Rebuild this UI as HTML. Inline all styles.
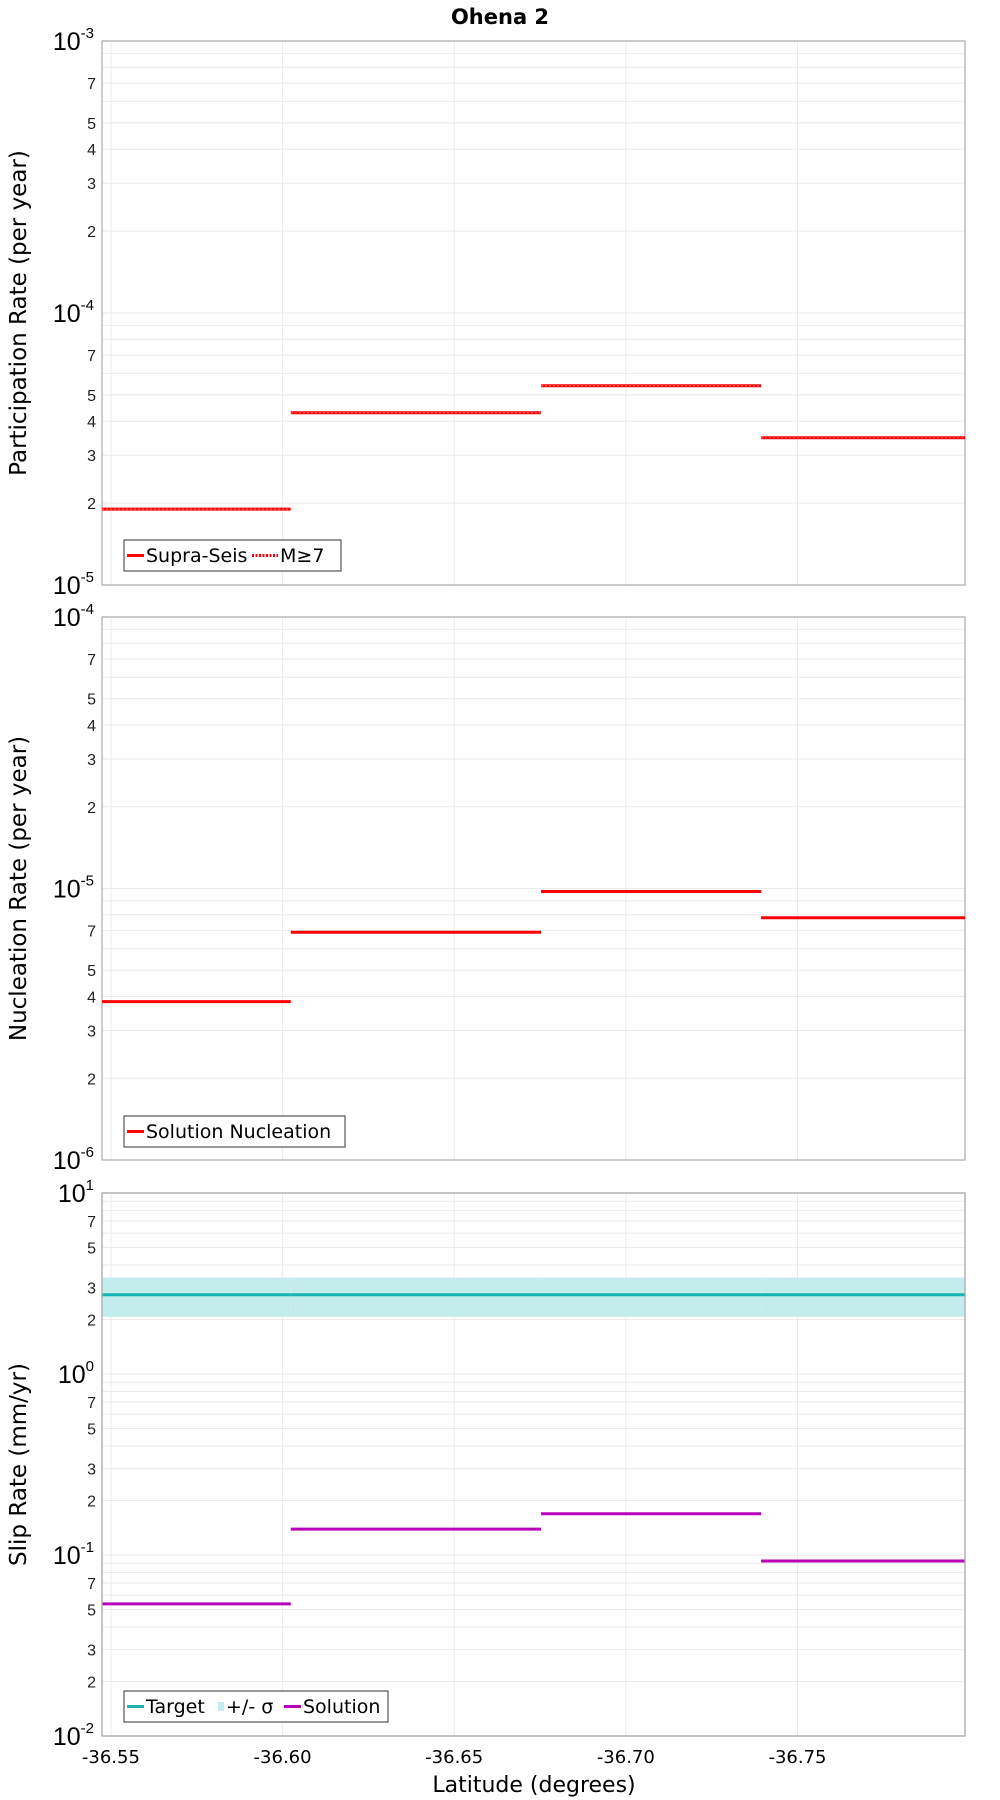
<!DOCTYPE html>
<html><head><meta charset="utf-8"><style>
body{margin:0;background:#fff;}
svg{display:block;font-family:"Liberation Sans","DejaVu Sans",sans-serif;}
</style></head><body>
<svg id="chart" width="1000" height="1800" viewBox="0 0 1000 1800" xmlns="http://www.w3.org/2000/svg">
<text x="500" y="24" text-anchor="middle" font-size="21" font-weight="bold" font-family="DejaVu Sans, sans-serif">Ohena 2</text>
<g id="root"></g>
</svg>
<script>
// shared x data
const segStarts = [-36.5474, -36.6024, -36.6753, -36.7394];
const segEnds = [-36.6024, -36.6753, -36.7394, -36.7988];
const xTicks = [-36.55, -36.60, -36.65, -36.70, -36.75];
const xTickLabels = ["-36.55", "-36.60", "-36.65", "-36.70", "-36.75"];
// panel 1
const partSupra = [1.9e-5, 4.3e-5, 5.4e-5, 3.48e-5];
const partM7 = [1.9e-5, 4.3e-5, 5.4e-5, 3.48e-5];
// panel 2
const nucleation = [3.83e-6, 6.9e-6, 9.75e-6, 7.8e-6];
// panel 3
const slipTarget = [2.74, 2.74, 2.74, 2.74];
const slipLow = [2.07, 2.07, 2.07, 2.07];
const slipHigh = [3.41, 3.41, 3.41, 3.41];
const slipSolution = [0.0537, 0.139, 0.169, 0.0927];

const NS = "http://www.w3.org/2000/svg";
const root = document.getElementById('root');
const L = 102, R = 965;
const xMin = -36.5474, xMax = -36.7988;
function X(v){ return L + (v - xMin) / (xMax - xMin) * (R - L); }
function mk(tag, attrs, parent){ const e = document.createElementNS(NS, tag); for (const k in attrs) e.setAttribute(k, attrs[k]); (parent||root).appendChild(e); return e; }

function panel(name, top, bot, expMin, expMax, title, labelMinors){
  const g = mk('g', {});
  
  
  const Y = v => bot - (Math.log10(v) - expMin) / (expMax - expMin) * (bot - top);
  mk('rect', {x:L, y:top, width:R-L, height:bot-top, fill:'#fff'}, g);
  for (let e = expMin; e < expMax; e++) {
    for (let m = 1; m <= 9; m++) {
      const v = m * Math.pow(10, e);
      const y = Y(v);
      mk('line', {x1:L, x2:R, y1:y, y2:y, stroke:'#ebebeb', 'stroke-width':1}, g);
      if (m === 1) {
        const t = mk('text', {x:L-8, y:y+9, 'text-anchor':'end', 'font-size':25, fill:'#000'}, g);
        
        
        t.innerHTML = '10<tspan dy="-12" font-size="15">' + e + '</tspan>';
      } else if (labelMinors.includes(m)) {
        const t = mk('text', {x:L-6, y:y+6, 'text-anchor':'end', 'font-size':16, fill:'#222'}, g);
        
        
        t.textContent = m;
      }
    }
  }
  const tt = mk('text', {x:L-8, y:top+9, 'text-anchor':'end', 'font-size':25}, g);
  
  
  tt.innerHTML = '10<tspan dy="-12" font-size="15">' + expMax + '</tspan>';
  xTicks.forEach(v => { const x = X(v); mk('line', {x1:x, x2:x, y1:top, y2:bot, stroke:'#ebebeb'}, g); });
  mk('rect', {x:L, y:top, width:R-L, height:bot-top, fill:'none', stroke:'#aaa', 'stroke-width':1.2}, g);
  const at = mk('text', {x:0, y:0, 'text-anchor':'middle', 'font-size':23, transform:`translate(26,${(top+bot)/2}) rotate(-90)`, 'font-family':'DejaVu Sans, sans-serif'}, g);
  
  
  at.textContent = title;
  return {g, Y};
}

function segs(g, Y, vals, color, name, extra){
  vals.forEach((v, i) => {
    const y = Y(v);
    const l = mk('line', Object.assign({x1:X(segStarts[i]), x2:X(segEnds[i]), y1:y, y2:y, stroke:color, 'stroke-width':3}, extra||{}), g);
    
    
  });
}

function legend(g, x, y, w, items){
  const box = mk('rect', {x:x, y:y, width:w, height:31, fill:'#fff', stroke:'#555', 'stroke-width':1.2}, g);
  
  
  let cx = x + 3;
  items.forEach(it => {
    if (it.band) mk('rect', {x:cx, y:y+11, width:6, height:9, fill:'#c4ecec'}, g);
    else mk('line', {x1:cx, x2:cx + it.sw, y1:y+15.5, y2:y+15.5, stroke:it.color, 'stroke-width':3, 'stroke-dasharray':it.dash||'none'}, g);
    cx += (it.band ? 8 : it.sw + 2);
    const t = mk('text', {x:cx, y:y+22, 'font-size':19, 'font-family':'DejaVu Sans, sans-serif'}, g);
    
    
    t.textContent = it.label;
    cx += it.lw;
  });
}

// Panel 1
const p1 = panel('participation-panel', 41, 585, -5, -3, 'Participation Rate (per year)', [2,3,4,5,7]);
segs(p1.g, p1.Y, partSupra, '#ff0000', 'supra-seis-segment');
segs(p1.g, p1.Y, partM7, '#ff7777', 'm7-segment', {'stroke-width':1, 'stroke-dasharray':'2,2'});
legend(p1.g, 124, 540, 217, [{color:'#f00', sw:17, label:'Supra-Seis', lw:106},{color:'#f00', sw:26, dash:'2,1.5', label:'M≥7', lw:40}]);

// Panel 2
const p2 = panel('nucleation-panel', 617, 1160, -6, -4, 'Nucleation Rate (per year)', [2,3,4,5,7]);
segs(p2.g, p2.Y, nucleation, '#ff0000', 'nucleation-segment');
legend(p2.g, 124, 1116, 221, [{color:'#f00', sw:17, label:'Solution Nucleation', lw:190}]);

// Panel 3
const p3 = panel('slip-rate-panel', 1193, 1736, -2, 1, 'Slip Rate (mm/yr)', [2,3,5,7]);
slipHigh.forEach((v, i) => {
  const r = mk('rect', {x:X(segStarts[i]), y:p3.Y(v), width:X(segEnds[i]) - X(segStarts[i]), height:p3.Y(slipLow[i]) - p3.Y(v), fill:'#c4ecec'}, p3.g);
  
  
});
segs(p3.g, p3.Y, slipTarget, '#1ab3b3', 'target-segment');
segs(p3.g, p3.Y, slipSolution, '#bb00bb', 'solution-segment');
mk('rect', {x:L, y:1193, width:R-L, height:543, fill:'none', stroke:'#aaa', 'stroke-width':1.2}, p3.g);
legend(p3.g, 124, 1691, 264, [{color:'#1ab3b3', sw:17, label:'Target', lw:72},{band:true, label:'+/- σ', lw:58},{color:'#bb00bb', sw:17, label:'Solution', lw:80}]);

// X tick labels
xTicks.forEach((v, i) => {
  const t = mk('text', {x:X(v), y:1763, 'text-anchor':'middle', 'font-size':18, 'font-family':'DejaVu Sans, sans-serif'});
  
  
  t.textContent = xTickLabels[i];
});
const xt = mk('text', {x:534, y:1792, 'text-anchor':'middle', 'font-size':22, 'font-family':'DejaVu Sans, sans-serif'});


xt.textContent = 'Latitude (degrees)';
</script>
</body></html>
